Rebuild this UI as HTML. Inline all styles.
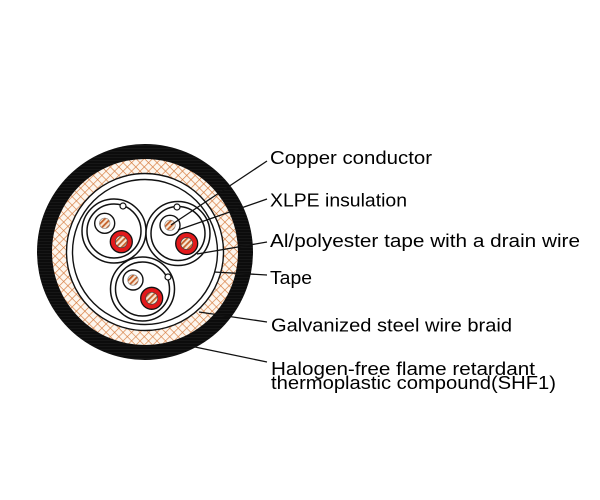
<!DOCTYPE html>
<html>
<head>
<meta charset="utf-8">
<style>
  html, body { margin: 0; padding: 0; background: #ffffff; }
  body { width: 600px; height: 500px; overflow: hidden; }
  svg { display: block; }
  text { font-family: "Liberation Sans", "DejaVu Sans", sans-serif; font-size: 18px; fill: #000; }
</style>
</head>
<body>
<svg width="600" height="500" viewBox="0 0 600 500" xmlns="http://www.w3.org/2000/svg">
  <defs>
    <pattern id="braid" width="6" height="6" patternUnits="userSpaceOnUse" patternTransform="rotate(45 145 252)">
      <rect width="6" height="6" fill="#fdf6ee"/>
      <line x1="0" y1="0" x2="6" y2="0" stroke="#d67a3c" stroke-width="1.3"/>
      <line x1="0" y1="0" x2="0" y2="6" stroke="#d67a3c" stroke-width="1.3"/>
    </pattern>
    <pattern id="cu" width="4" height="4" patternUnits="userSpaceOnUse" patternTransform="rotate(-45)">
      <rect width="4" height="4" fill="#f7e6d3"/>
      <rect width="4" height="1.8" fill="#c4602a"/>
    </pattern>
    <pattern id="sheath" width="8" height="3" patternUnits="userSpaceOnUse">
      <rect width="8" height="3" fill="#0c0c0c"/>
      <rect y="1" width="8" height="0.5" fill="#222"/>
    </pattern>
  </defs>

  <!-- outer sheath -->
  <circle cx="145" cy="252" r="108" fill="url(#sheath)"/>
  <!-- braid -->
  <circle cx="145" cy="252" r="93" fill="url(#braid)"/>
  <!-- inner white with circles -->
  <circle cx="145" cy="252" r="78.5" fill="#fff" stroke="#111" stroke-width="1.4"/>
  <circle cx="145" cy="252" r="72.5" fill="none" stroke="#111" stroke-width="1.4"/>

  <!-- TL pair -->
  <circle cx="114" cy="231" r="32" fill="#fff" stroke="#111" stroke-width="1.5"/>
  <circle cx="114" cy="231" r="27" fill="none" stroke="#111" stroke-width="1.5"/>
  <circle cx="123" cy="206" r="3" fill="#fff" stroke="#111" stroke-width="1.2"/>
  <circle cx="104.7" cy="223.3" r="10" fill="#fff" stroke="#111" stroke-width="1.4"/>
  <circle cx="104.7" cy="223.3" r="5.3" fill="url(#cu)" stroke="#888" stroke-width="0.6"/>
  <circle cx="121.3" cy="241.7" r="11" fill="#e3191b" stroke="#111" stroke-width="1.3"/>
  <circle cx="121.3" cy="241.7" r="6" fill="url(#cu)" stroke="#444" stroke-width="0.7"/>

  <!-- TR pair -->
  <circle cx="178" cy="233.5" r="32" fill="#fff" stroke="#111" stroke-width="1.5"/>
  <circle cx="178" cy="233.5" r="27" fill="none" stroke="#111" stroke-width="1.5"/>
  <circle cx="177" cy="207" r="3" fill="#fff" stroke="#111" stroke-width="1.2"/>
  <circle cx="170" cy="225.3" r="10" fill="#fff" stroke="#111" stroke-width="1.4"/>
  <circle cx="170" cy="225.3" r="5.3" fill="url(#cu)" stroke="#888" stroke-width="0.6"/>
  <circle cx="186.7" cy="243.5" r="11" fill="#e3191b" stroke="#111" stroke-width="1.3"/>
  <circle cx="186.7" cy="243.5" r="6" fill="url(#cu)" stroke="#444" stroke-width="0.7"/>

  <!-- Bottom pair -->
  <circle cx="142.5" cy="289" r="32" fill="#fff" stroke="#111" stroke-width="1.5"/>
  <circle cx="142.5" cy="289" r="27" fill="none" stroke="#111" stroke-width="1.5"/>
  <circle cx="168" cy="277" r="3" fill="#fff" stroke="#111" stroke-width="1.2"/>
  <circle cx="133" cy="280" r="10" fill="#fff" stroke="#111" stroke-width="1.4"/>
  <circle cx="133" cy="280" r="5.3" fill="url(#cu)" stroke="#888" stroke-width="0.6"/>
  <circle cx="151.7" cy="298.3" r="11" fill="#e3191b" stroke="#111" stroke-width="1.3"/>
  <circle cx="151.7" cy="298.3" r="6" fill="url(#cu)" stroke="#444" stroke-width="0.7"/>

  <!-- leader lines -->
  <g stroke="#111" stroke-width="1.3" fill="none">
    <line x1="267" y1="161" x2="171" y2="225"/>
    <line x1="267" y1="199" x2="178" y2="230"/>
    <line x1="267" y1="242" x2="197" y2="254"/>
    <line x1="267" y1="275" x2="214" y2="272"/>
    <line x1="267" y1="322" x2="199" y2="312"/>
    <line x1="267" y1="362" x2="195" y2="347"/>
  </g>

  <!-- labels -->
  <text x="270" y="164" textLength="162" lengthAdjust="spacingAndGlyphs">Copper conductor</text>
  <text x="270" y="206.5" textLength="137" lengthAdjust="spacingAndGlyphs">XLPE insulation</text>
  <text x="270" y="247" textLength="310" lengthAdjust="spacingAndGlyphs">Al/polyester tape with a drain wire</text>
  <text x="270" y="284" textLength="42" lengthAdjust="spacingAndGlyphs">Tape</text>
  <text x="271" y="331.5" textLength="241" lengthAdjust="spacingAndGlyphs">Galvanized steel wire braid</text>
  <text x="271" y="375" textLength="264" lengthAdjust="spacingAndGlyphs">Halogen-free flame retardant</text>
  <text x="271" y="389" textLength="285" lengthAdjust="spacingAndGlyphs">thermoplastic compound(SHF1)</text>
</svg>
</body>
</html>
